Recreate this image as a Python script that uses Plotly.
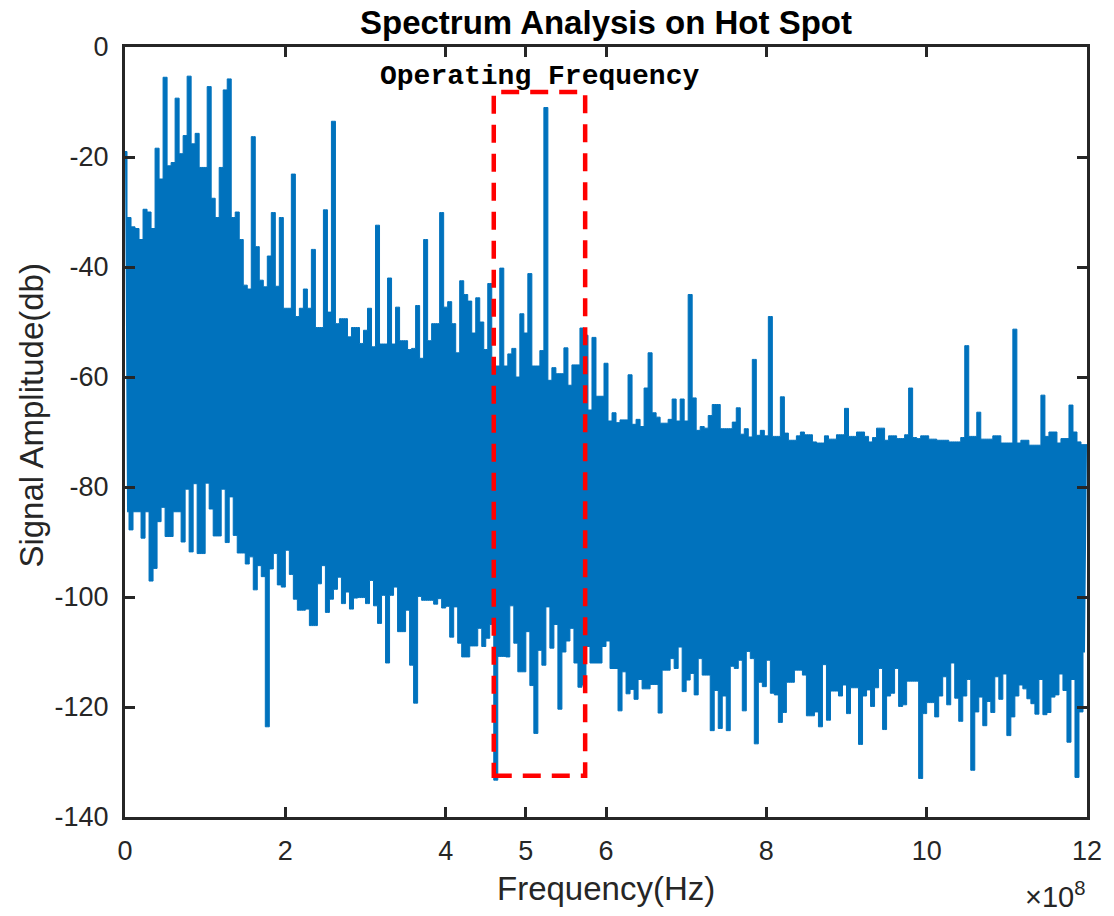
import numpy as np
import plotly.graph_objects as go

# Frequencies in units of 1e8 Hz
STEP = 0.05
# Upper envelope of the spectrum (dB), sampled every 0.05e8 Hz from 0 to 12e8 Hz
upper_db = [
    -19, -31, -32.7, -33, -35, -29.5, -30, -33, -18.4, -24,
    -5.5, -21.6, -21, -9.3, -19.4, -16.1, -5.3, -17.6, -15.7, -21.9,
    -21.9, -7.2, -27.5, -31, -21.9, -7.8, -5.8, -31, -30, -35,
    -43.3, -44, -16.3, -36.3, -42.4, -43.6, -38, -30.1, -43.5, -31,
    -47.5, -47.5, -23.1, -49, -47.5, -44, -47.5, -36.8, -51, -51,
    -29.6, -48.2, -13.5, -50.3, -49.4, -49.4, -52.7, -51, -51, -53.9,
    -51.5,
    -47.5, -54.5, -32.4, -54, -54, -42, -54, -47.3, -53.4, -53.4,
    -55, -54.8, -47, -56.6, -35, -53.4, -50.3, -50.3, -30.1, -47.3,
    -46.3, -50.3, -55.6, -42.5, -45, -46.2, -52, -45.6, -50, -55,
    -43, -58, -58, -40.2, -58, -55.8, -54.8, -60, -48.5, -52,
    -41.2, -58, -58, -55.2, -11, -60.6, -58.3, -59.4, -59.4, -54.7,
    -61.5, -57.8, -57.8, -51.1, -52.4, -66, -52.8, -63.5, -63.5, -57.5,
    -68, -66.5, -68.3, -67.8, -67.8, -59.6, -68.6, -67.7, -69, -62,
    -55.6, -66.5, -67.3, -68.4, -68.4, -67.7, -64, -68, -64, -68,
    -45, -63.8, -69.7, -69, -69.3, -67, -65, -65, -69.4, -69.4,
    -69.4, -68.2, -65.6, -70.4, -69.4, -70.9, -56.8, -70.6, -69.7, -70.7,
    -49, -70.8, -70.8, -63.6, -70.2, -71.5, -71.5, -70.7, -70, -70.5,
    -70.5, -71.8, -72, -72, -70.7, -71.3, -71.3, -70.5, -70.5, -65.7,
    -70.8, -70.8, -70, -70, -70.8, -71.8, -71, -69.3, -69.3, -71.5,
    -70.7, -70.7, -71.2, -71.2, -70.5, -62, -71, -71.2, -70.7, -70.7,
    -71.3, -71.3, -71.5, -71.5, -71.5, -71.8, -71.8, -71.8, -71, -54.3,
    -70.8, -70.8, -66.4, -71.3, -71.3, -71.3, -70.7, -70.7, -72, -72,
    -72, -51.3, -72, -71.5, -71.5, -72.4, -72.4, -72.4, -63.3, -70.8,
    -70, -70, -72, -71.2, -71.2, -65.1, -70, -71.8, -72.3, -72.3,
]
# Lower envelope (dB), sampled halfway between the upper samples (0.025e8 .. 11.975e8 Hz)
lower_db = [
    -84.5, -87.8, -84.5, -84.5, -89.3, -84.5, -97.1, -94.8, -86.3, -83.7,
    -89, -89, -84.5, -84.5, -90, -80.4, -91.8, -79.4, -92.1, -92.1,
    -79.3, -84, -88.9, -88.9, -80.4, -90.1, -81.8, -88.8, -92, -92,
    -94, -92.7, -98.7, -94.3, -96.3, -123.6, -94.9, -92.1, -97.8, -98.2,
    -91.5, -95.9, -100.4, -102.4, -102.4, -102.2, -105.2, -105.2, -97.6, -94.3,
    -102.8, -100.4, -98.6, -96.4, -101.2, -99.1, -102.2, -100.2, -100.1, -100.1,
    -101.2, -97, -101.6, -104.8, -99.7, -112, -99.7, -98.2, -106.3, -106.3,
    -102.4, -112.4, -119.3, -99.9, -100.6, -100.6, -100.6, -101.3, -100.3, -102,
    -101.7, -107.3, -101.8, -108.4, -110.9, -110.9, -108.9, -108.9, -105.7, -109,
    -107.5, -105, -133.3, -110.8, -110.8, -110.9, -101.6, -108.4, -113.6, -113.6,
    -106.3, -116.1, -124.8, -109.7, -112.4, -101.8, -109.3, -105, -120.4, -110,
    -108, -105.7, -112, -116.4, -116, -109, -112, -112, -112, -109,
    -108, -113, -113, -120.7, -113.6, -117.6, -116.8, -118.6, -115, -116.7,
    -116.7, -115.9, -115.9, -121.1, -113.3, -113.3, -111.2, -113, -109.1, -117.2,
    -115.1, -113.9, -117.8, -111.2, -114.2, -114.2, -124.3, -117, -123.9, -118,
    -124.3, -112.6, -113, -111.5, -120.7, -109.9, -111.2, -126.7, -115.5, -116.3,
    -111.5, -117.5, -117.8, -122.8, -121, -115.5, -115.5, -113.3, -113.3, -114.2,
    -121.6, -121.6, -120.9, -123.6, -112.3, -122.4, -117.1, -117.1, -118, -116,
    -121.2, -116.5, -116.5, -126.8, -118, -116.9, -119.9, -116.5, -113, -124.1,
    -118, -117.5, -113, -119.9, -119.6, -115.3, -115.3, -115.3, -133, -121.2,
    -119.2, -119.2, -121.8, -118, -114.5, -119.6, -112, -118.4, -122.6, -118,
    -115, -131.5, -120.9, -118.2, -123.4, -119, -121, -114.5, -118.6, -114,
    -125.2, -121.8, -118, -116, -116.7, -118.5, -119.4, -121.3, -115, -121.4,
    -121, -118.2, -117.8, -114, -117, -126.4, -115, -132.8, -120.9, -110,
]

x_ticks = [0, 2, 4, 5, 6, 8, 10, 12]
y_ticks = [0, -20, -40, -60, -80, -100, -120, -140]
box_freq = [4.6, 5.74]
box_db = [-132.5, -8.2]
title_text = "Spectrum Analysis on Hot Spot"
box_label = "Operating Frequency"

f_up = np.arange(len(upper_db)) * STEP
f_lo = np.arange(len(lower_db)) * STEP + STEP / 2

FONT = "Liberation Sans, Arial, Helvetica, sans-serif"
AX = "#262626"
BLUE = "#0072BD"

fig = go.Figure()
# lower edge of the dense spectrum band
fig.add_trace(go.Scatter(x=f_lo, y=lower_db, mode="lines",
                         line=dict(color=BLUE, width=1.0, shape="hvh", simplify=False),
                         hoverinfo="skip", showlegend=False))
# upper edge, filled down to the lower edge
fig.add_trace(go.Scatter(x=f_up, y=upper_db, mode="lines",
                         line=dict(color=BLUE, width=1.0, shape="hvh", simplify=False),
                         fill="tonexty", fillcolor=BLUE,
                         hoverinfo="skip", showlegend=False))

fig.add_shape(type="rect", x0=box_freq[0], x1=box_freq[1], y0=box_db[0], y1=box_db[1],
              xref="x", yref="y", line=dict(color="#FF0000", width=4.5, dash="18px,11px"))

fig.add_annotation(x=(box_freq[0] + box_freq[1]) / 2, y=-5.4, xref="x", yref="y",
                   text="<b>" + box_label + "</b>", showarrow=False, yanchor="middle",
                   font=dict(family="Courier New, Liberation Mono, monospace", size=28, color="black"))

axis_common = dict(showline=True, linewidth=3, linecolor=AX, mirror="ticks",
                   ticks="inside", ticklen=10, tickwidth=3, tickcolor=AX,
                   showgrid=False, zeroline=False,
                   tickfont=dict(family=FONT, size=27, color=AX))

fig.update_xaxes(range=[0, 12], tickvals=x_ticks, ticktext=[str(v) for v in x_ticks],
                 ticklabelstandoff=8, **axis_common)
fig.update_yaxes(range=[-140, 0], tickvals=y_ticks, ticktext=[str(v) for v in y_ticks],
                 ticklabelstandoff=8, **axis_common)

fig.add_annotation(x=0.5, y=(817 - 888) / 770, xref="paper", yref="paper",
                   text="Frequency(Hz)", showarrow=False, yanchor="middle",
                   font=dict(family=FONT, size=33, color=AX))
fig.add_annotation(x=(30 - 125) / 968, y=(817 - 415) / 770, xref="paper", yref="paper",
                   text="Signal Amplitude(db)", showarrow=False, textangle=-90,
                   xanchor="center", yanchor="middle",
                   font=dict(family=FONT, size=33, color=AX))
fig.add_annotation(x=1.0, y=(817 - 895) / 770, xref="paper", yref="paper", xanchor="right",
                   yanchor="middle", text="×10<sup>8</sup>", showarrow=False,
                   font=dict(family=FONT, size=29, color=AX))

fig.update_layout(
    width=1114, height=916,
    margin=dict(l=125, r=17, t=47, b=99),
    paper_bgcolor="white", plot_bgcolor="white",
    title=dict(text="<b>" + title_text + "</b>", x=0.5, xref="paper", xanchor="center",
               y=1 - 22 / 916, yref="container", yanchor="middle",
               font=dict(family=FONT, size=33, color="black")),
)

fig.write_html("out.html")
